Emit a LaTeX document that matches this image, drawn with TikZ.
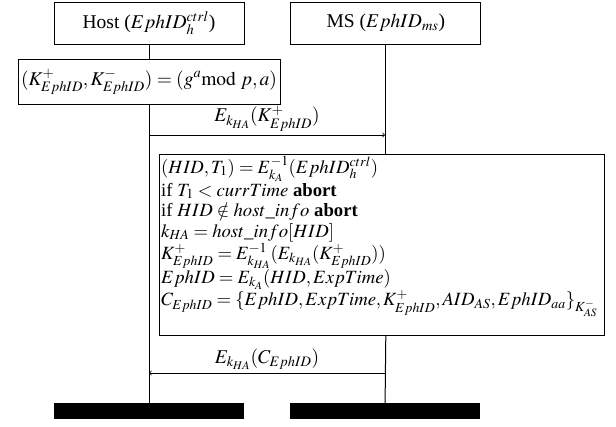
\documentclass[tikz,border=0pt]{standalone}
\usepackage{mathptmx}
\usepackage[no-math]{fontspec}
\setmainfont{Liberation Serif}
\usetikzlibrary{positioning}
\tikzset{
    party/.style={draw, thick, minimum width=190pt, minimum height=42pt, inner sep=0pt},
    stepbox/.style={draw, thick, inner sep=3pt},
    lifebar/.style={fill=black, minimum width=190pt, minimum height=16pt, inner sep=0pt},
    lifeline/.style={line width=1pt},
    msg/.style={->, thick}
}
\begin{document}
\begin{tikzpicture}[x=1pt, y=-1pt, font=\fontsize{19.5}{22}\selectfont]
                        \useasboundingbox (0,0) rectangle (616,426);
                        \node[party] (host) at (149,23) {Host ($EphID_h^{ctrl}$)};
                        \node[party, right=46pt of host] (ms) {MS ($EphID_{ms}$)};
                        \node[stepbox, minimum height=45pt] (keygen) at (149,81.5)
                            {$(K^+_{EphID},K^-_{EphID})=(g^a\mathrm{mod}\ p,a)$};
                        \node[stepbox, minimum width=445pt, minimum height=181pt, anchor=north west] (verify) at (159,154) {};
                        \node[anchor=north west, align=left, inner sep=2pt, font=\fontsize{18.7}{20.5}\selectfont] (checks) at (verify.north west) {%
                            $(HID,T_1)=E^{-1}_{k_A}(EphID_h^{ctrl})$\\
                            if $T_1<currTime$ \textbf{abort}\\
                            if $HID\notin host\_info$ \textbf{abort}\\
                            $k_{HA}=host\_info[HID]$\\
                            $K^+_{EphID}=E^{-1}_{k_{HA}}(E_{k_{HA}}(K^+_{EphID}))$\\
                            $EphID=E_{k_A}(HID,ExpTime)$\\
                            $C_{EphID}=\{EphID,ExpTime,K^+_{EphID},AID_{AS},EphID_{aa}\}_{K^-_{AS}}$};
                        \node[lifebar] (hostend) at (149,411) {};
                        \node[lifebar] (msend) at (385,411) {};
                        \coordinate (h1) at (149,135);
                        \coordinate (m1) at (385,135);
                        \coordinate (m2) at (385,373);
                        \coordinate (h2) at (149,373);
                        \draw[lifeline] (host) -- (keygen);
                        \draw[lifeline] (keygen) -- (hostend);
                        \draw[lifeline] (ms) -- (ms |- verify.north);
                        \draw[lifeline] (ms |- verify.south) -- (msend);
                        \draw[msg] (h1) -- node[above] {$E_{k_{HA}}(K^+_{EphID})$} (m1);
                        \draw[msg] (m2) -- node[above] {$E_{k_{HA}}(C_{EphID})$} (h2);
                    \end{tikzpicture}
\end{document}
